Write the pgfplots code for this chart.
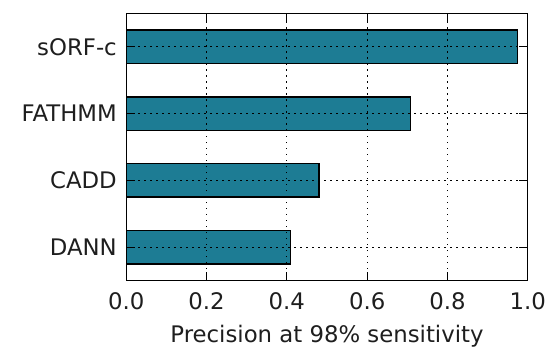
\documentclass[border=0pt]{standalone}
\usepackage{pgfplots}
\pgfplotsset{compat=1.18}
\usepackage{fontspec}
\setmainfont{DejaVu Sans}
\definecolor{barteal}{RGB}{29,124,148}
\definecolor{txt}{RGB}{30,30,30}
\begin{document}
\begin{tikzpicture}[x=1pt,y=1pt]
\path[use as bounding box] (0,0) rectangle (545,348);
\begin{axis}[
  at={(126.3pt,67.3pt)}, anchor=south west,
  scale only axis, width=401.4pt, height=267.4pt,
  xbar, bar width=0.5, bar shift=0pt,
  xmin=0, xmax=1, ymin=-0.5, ymax=3.5,
  ytick={0,1,2,3}, yticklabels={DANN,CADD,FATHMM,sORF-c},
  xtick={0,0.2,0.4,0.6,0.8,1.0},
  /pgf/number format/assume math mode=true,
  tick label style={font=\fontsize{22.8}{26}\selectfont, text=txt},
  label style={font=\fontsize{22.8}{26}\selectfont, text=txt},
  xticklabel style={yshift=-8pt, /pgf/number format/.cd, fixed, fixed zerofill, precision=1},
  yticklabel style={xshift=-6pt},
  xlabel={Precision at 98\% sensitivity},
  xlabel style={yshift=-9pt},
  tick align=inside, major tick length=9pt,
  xtick pos=both, ytick pos=both,
  xmajorgrids, ymajorgrids,
  grid style={black, line width=0.9pt, dash pattern=on 1.2pt off 4.8pt},
  axis line style={line width=1.3pt},
  tick style={black, line width=0.9pt},
  axis on top,
]
\addplot[fill=barteal, draw=black, line width=1.3pt] coordinates {
  (0.409,0) (0.480,1) (0.708,2) (0.975,3)
};
\end{axis}
\end{tikzpicture}
\end{document}
